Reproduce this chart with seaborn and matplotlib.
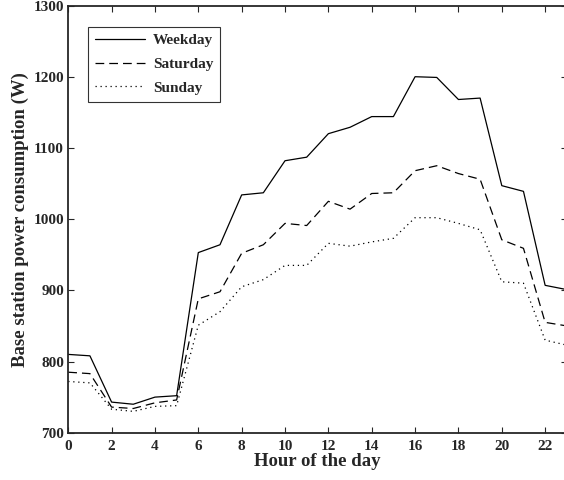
import numpy as np
import pandas as pd
import matplotlib
matplotlib.use("Agg")
import matplotlib.pyplot as plt
import seaborn as sns

# hourly base station power (W)
hours = list(range(24))
weekday = [810, 808, 743, 740, 750, 752, 953, 964, 1034, 1037, 1082, 1087,
           1120, 1129, 1144, 1144, 1200, 1199, 1168, 1170, 1047, 1039, 907, 901]
saturday = [785, 783, 736, 734, 742, 746, 888, 898, 952, 964, 994, 991,
            1025, 1014, 1036, 1037, 1068, 1075, 1064, 1056, 971, 959, 855, 850]
sunday = [772, 770, 733, 730, 737, 738, 851, 870, 905, 915, 935, 935,
          966, 962, 968, 973, 1002, 1002, 994, 985, 912, 910, 830, 823]

series = ["Weekday", "Saturday", "Sunday"]

df = pd.DataFrame({
    "hour": hours * 3,
    "power": weekday + saturday + sunday,
    "day": [s for s in series for _ in hours],
})

sns.set_style("ticks")
plt.rcParams["font.family"] = ["Liberation Serif", "DejaVu Serif"]
plt.rcParams["font.weight"] = "bold"
plt.rcParams["xtick.direction"] = "in"
plt.rcParams["ytick.direction"] = "in"

fig = plt.figure(figsize=(5.64, 4.8), dpi=100)
ax = fig.add_axes([0.121, 0.0985, 0.884, 0.890])

sns.lineplot(
    data=df, x="hour", y="power", hue="day", style="day",
    hue_order=series, style_order=series,
    palette={s: "black" for s in series},
    dashes={"Weekday": "", "Saturday": (7, 4), "Sunday": (1, 3)},
    linewidth=0.9, ax=ax,
)

ax.set_xlim(0, 23)
ax.set_ylim(700, 1300)
ax.set_xticks(range(0, 23, 2))
ax.set_yticks(range(700, 1301, 100))
ax.tick_params(top=True, right=True, length=4, width=0.8, labelsize=11)
ax.tick_params(axis="x", pad=5)
ax.tick_params(axis="y", pad=3)
for lab in ax.get_xticklabels() + ax.get_yticklabels():
    lab.set_fontweight("bold")
for sp in ax.spines.values():
    sp.set_linewidth(1.3)

ax.set_xlabel("Hour of the day", fontsize=13.5, fontweight="bold", labelpad=0)
ax.set_ylabel("Base station power consumption (W)", fontsize=13.5,
              fontweight="bold", labelpad=3)

leg = ax.legend(loc="upper left", bbox_to_anchor=(0.04, 0.95), fontsize=11,
                handlelength=3.3, frameon=True, fancybox=False,
                borderaxespad=0, borderpad=0.45, labelspacing=0.65,
                handletextpad=0.5)
leg.get_frame().set_edgecolor("black")
leg.get_frame().set_linewidth(0.8)
for t in leg.get_texts():
    t.set_fontweight("bold")

fig.savefig("out.png", dpi=100)
